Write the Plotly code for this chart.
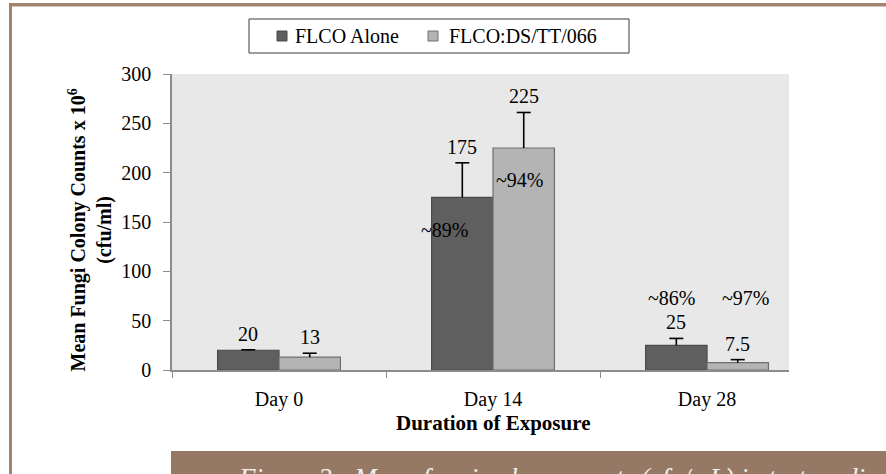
import plotly.graph_objects as go

# ---------------- data ----------------
categories = ["Day 0", "Day 14", "Day 28"]
series_names = ["FLCO Alone", "FLCO:DS/TT/066"]
flco_alone = [20, 175, 25]
flco_alone_err = [0.5, 35, 7]
flco_ds = [13, 225, 7.5]
flco_ds_err = [4, 36, 3]
value_labels_alone = ["20", "175", "25"]
value_labels_ds = ["13", "225", "7.5"]
pct_labels = ["~89%", "~94%", "~86%", "~97%"]
y_ticks = [0, 50, 100, 150, 200, 250, 300]
x_title = "Duration of Exposure"
y_title = "Mean Fungi Colony Counts x 10<sup>6</sup><br>(cfu/ml)"
caption = "Figure 2:  Mean fungi colony counts (cfu/mL) in test media"

# ---------------- layout constants ----------------
W, H = 886, 474
L, R, T, B = 172, 97, 74, 104
PW = W - L - R
PH = H - T - B
FONT = "Liberation Serif"
BARGAP = 0.426
COLORS = ["#5f5f5f", "#b4b4b4"]
OUTLINES = ["#4a4a4a", "#6e6e6e"]
# percent label placement (x in category units, y in data units)
pct_pos = [(0.772, 142), (1.126, 192.5), (1.832, 73.3), (2.182, 73.3)]


def px(x):
    return (x - L) / PW


def py(y):
    return (H - B - y) / PH


xs = list(range(len(categories)))
half = (1 - BARGAP) / 2
series = [
    (series_names[0], flco_alone, flco_alone_err, value_labels_alone, -half / 2),
    (series_names[1], flco_ds, flco_ds_err, value_labels_ds, half / 2),
]

fig = go.Figure()
for k, (name, vals, errs, labs, off) in enumerate(series):
    fig.add_trace(go.Bar(
        x=xs, y=vals, name=name, showlegend=False,
        marker=dict(color=COLORS[k], line=dict(color=OUTLINES[k], width=1.2)),
        error_y=dict(type="data", array=errs, arrayminus=[0] * len(vals),
                     symmetric=False, color="black", thickness=1.6, width=0),
    ))
for k, (name, vals, errs, labs, off) in enumerate(series):
    # error-bar caps
    fig.add_trace(go.Scatter(
        x=[i + off for i in xs], y=[v + e for v, e in zip(vals, errs)],
        mode="markers", showlegend=False, hoverinfo="skip",
        marker=dict(symbol="line-ew", size=10, color="black",
                    line=dict(color="black", width=1.6)),
    ))

annotations = []
for k, (name, vals, errs, labs, off) in enumerate(series):
    for i in xs:
        annotations.append(dict(
            x=i + off, y=vals[i] + errs[i], xref="x", yref="y", text=labs[i],
            showarrow=False, yanchor="middle", xanchor="center", yshift=16,
            font=dict(family=FONT, size=20, color="black"),
        ))
for lab, (xx, yy) in zip(pct_labels, pct_pos):
    annotations.append(dict(
        x=xx, y=yy, xref="x", yref="y", text=lab, showarrow=False,
        font=dict(family=FONT, size=20, color="black"),
    ))
# axis titles
annotations.append(dict(
    x=1, y=py(423), xref="x", yref="paper", text=x_title, showarrow=False,
    yanchor="middle", font=dict(family=FONT, size=21, color="black", weight="bold"),
))
annotations.append(dict(
    x=px(90.5), y=py(230), xref="paper", yref="paper", text=y_title, showarrow=False,
    textangle=-90, xanchor="center", yanchor="middle",
    font=dict(family=FONT, size=20, color="black", weight="bold"),
))
# legend texts
leg_text_x = [293, 447]
for k, name in enumerate(series_names):
    annotations.append(dict(
        x=px(leg_text_x[k]), y=py(36.5), xref="paper", yref="paper", text=name,
        showarrow=False, xanchor="left", yanchor="middle",
        font=dict(family=FONT, size=20, color="black"),
    ))
# caption
annotations.append(dict(
    x=px(236), y=py(461), xref="paper", yref="paper", text=caption, showarrow=False,
    xanchor="left", yanchor="top",
    font=dict(family=FONT, size=27, color="#f4efea", style="italic"),
))

shapes = [
    # top border
    dict(type="rect", xref="paper", yref="paper", x0=px(9), x1=px(887), y0=py(3), y1=py(6.5),
         fillcolor="#a0846f", line=dict(width=0), layer="above"),
    # left border
    dict(type="rect", xref="paper", yref="paper", x0=px(9), x1=px(12), y0=py(3), y1=py(475),
         fillcolor="#a0846f", line=dict(width=0), layer="above"),
    # caption box
    dict(type="rect", xref="paper", yref="paper", x0=px(171), x1=px(887), y0=py(451), y1=py(475),
         fillcolor="#957964", line=dict(width=0), layer="below"),
    # legend box
    dict(type="rect", xref="paper", yref="paper", x0=px(249), x1=px(629), y0=py(19), y1=py(53),
         fillcolor="white", line=dict(color="#3a3a3a", width=1), layer="below"),
]
leg_sq_x = [277, 428]
for k in range(2):
    shapes.append(dict(
        type="rect", xref="paper", yref="paper",
        x0=px(leg_sq_x[k]), x1=px(leg_sq_x[k] + 10), y0=py(31), y1=py(41),
        fillcolor=COLORS[k], line=dict(color=OUTLINES[k], width=1), layer="above",
    ))

fig.update_layout(
    width=W, height=H,
    margin=dict(l=L, r=R, t=T, b=B, autoexpand=False),
    paper_bgcolor="white", plot_bgcolor="#e8e8e8",
    barmode="group", bargap=BARGAP, bargroupgap=0,
    font=dict(family=FONT, size=20, color="black"),
    showlegend=False,
    annotations=annotations,
    shapes=shapes,
)
fig.update_xaxes(
    range=[-0.5, 2.383], tickvals=xs, ticktext=categories,
    showgrid=False, zeroline=False,
    showline=True, linecolor="#8c8c8c", linewidth=1.5,
    ticks="", ticklabelstandoff=10,
    minor=dict(tickmode="array", tickvals=[-0.5, 0.5, 1.5, 2.5], ticks="outside",
               ticklen=6, tickcolor="#8c8c8c", tickwidth=1.2, showgrid=False),
    tickfont=dict(family=FONT, size=20, color="black"),
)
fig.update_yaxes(
    range=[0, 300], tickvals=y_ticks, showgrid=False, zeroline=False,
    showline=True, linecolor="#8c8c8c", linewidth=1.5,
    ticks="outside", ticklen=7, tickcolor="#8c8c8c", tickwidth=1.2,
    ticklabelstandoff=8, tickfont=dict(family=FONT, size=20, color="black"),
)

fig.write_html("out.html", post_script="document.body.style.margin='0';",
               config={"displayModeBar": False})
